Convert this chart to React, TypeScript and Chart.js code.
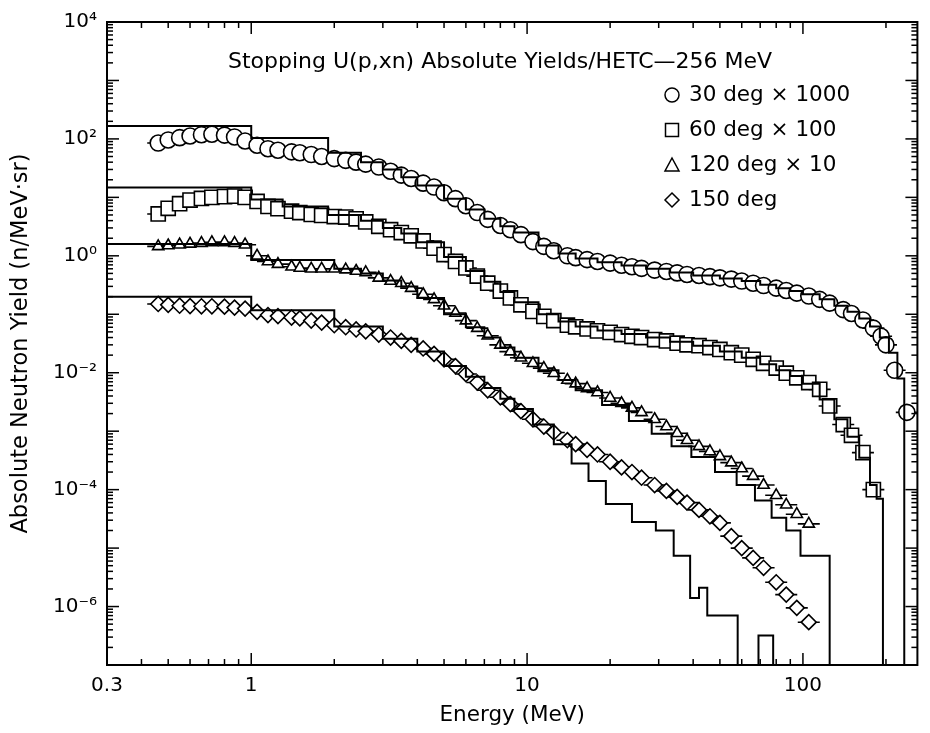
import React, { useEffect, useRef } from 'react';
import { Chart, registerables } from 'chart.js';

Chart.register(...registerables);

const FONT = '"DejaVu Sans", "Liberation Sans", sans-serif';

// ---- measured points (energy in MeV) ----
const markerEnergy = [
  0.46, 0.5, 0.55, 0.6, 0.66, 0.72, 0.8, 0.87, 0.95, 1.05,
  1.15, 1.25, 1.4, 1.5, 1.65, 1.8, 2.0, 2.2, 2.4, 2.6,
  2.9, 3.2, 3.5, 3.8, 4.2, 4.6, 5.0, 5.5, 6.0, 6.6,
  7.2, 8.0, 8.7, 9.5, 10.5, 11.5, 12.5, 14, 15, 16.5,
  18, 20, 22, 24, 26, 29, 32, 35, 38, 42,
  46, 50, 55, 60, 66, 72, 80, 87, 95, 105,
  115, 125, 140, 150, 165, 180, 192, 200, 215, 238,
];

const yield30x1000 = [
  85, 96, 105, 112, 118, 120, 116, 108, 92, 78,
  68, 64, 60, 58, 54, 50, 46, 43, 40, 37,
  33, 28, 24, 21, 17.5, 15, 12, 9.5, 7.2, 5.5,
  4.2, 3.3, 2.8, 2.3, 1.75, 1.45, 1.22, 1.0, 0.93, 0.86,
  0.8, 0.75, 0.69, 0.65, 0.61, 0.57, 0.54, 0.51, 0.48, 0.46,
  0.44, 0.42, 0.4, 0.37, 0.34, 0.31, 0.28, 0.255, 0.23, 0.205,
  0.18, 0.155, 0.12, 0.103, 0.08, 0.058, 0.042, 0.03, 0.011, 0.0021,
];

const yield60x100 = [
  5.2, 6.5, 7.8, 9.0, 9.6, 10, 10.3, 10.5, 10, 8.5,
  7.0, 6.4, 5.8, 5.5, 5.1, 4.9, 4.7, 4.6, 4.3, 3.8,
  3.2, 2.8, 2.5, 2.2, 1.8, 1.35, 1.05, 0.8, 0.62, 0.45,
  0.34, 0.25, 0.19, 0.145, 0.112, 0.092, 0.078, 0.065, 0.061, 0.056,
  0.052, 0.049, 0.045, 0.042, 0.04, 0.037, 0.035, 0.032, 0.03, 0.029,
  0.027, 0.025, 0.022, 0.02, 0.017, 0.0145, 0.012, 0.0098, 0.0082, 0.0068,
  0.0052, 0.0027, 0.0013, 0.00085, 0.00043, 0.0001, null, null, null, null,
];

const yield120x10 = [
  1.45, 1.5, 1.55, 1.6, 1.65, 1.7, 1.7, 1.65, 1.55, 1.0,
  0.8, 0.72, 0.65, 0.62, 0.6, 0.6, 0.6, 0.58, 0.55, 0.52,
  0.42, 0.37, 0.34, 0.28, 0.22, 0.18, 0.14, 0.105, 0.078, 0.058,
  0.043, 0.03, 0.023, 0.018, 0.0145, 0.012, 0.0098, 0.0075, 0.0065, 0.0054,
  0.0046, 0.0037, 0.003, 0.0025, 0.0021, 0.0016, 0.0012, 0.00092, 0.0007, 0.00055,
  0.00045, 0.00037, 0.00029, 0.00023, 0.00017, 0.00012, 0.00008, 0.000055, 0.000038, 0.000026,
  null, null, null, null, null, null, null, null, null, null,
];

const yield150 = [
  0.15, 0.145, 0.14, 0.138, 0.137, 0.137, 0.135, 0.13, 0.125, 0.11,
  0.097, 0.093, 0.088, 0.085, 0.078, 0.072, 0.065, 0.06, 0.055, 0.051,
  0.045, 0.04, 0.035, 0.03, 0.026, 0.021, 0.017, 0.013, 0.0095, 0.0068,
  0.005, 0.0038, 0.0029, 0.0022, 0.0016, 0.0012, 0.00095, 0.0007, 0.0006, 0.00048,
  0.0004, 0.0003, 0.00024, 0.0002, 0.00016, 0.00012, 0.000095, 0.000075, 0.00006, 0.000045,
  0.000035, 0.000027, 0.000016, 0.00001, 0.0000068, 0.0000046, 0.0000026, 0.0000016, 0.00000095, 0.00000054,
  null, null, null, null, null, null, null, null, null, null,
];

// ---- HETC calculation histograms (bin edges in MeV, bin values) ----
const hetc30Edges = [0.3, 1, 1.9, 2.5, 3, 3.5, 4, 5, 6, 7, 8, 9, 11, 13, 15, 18, 22, 27, 33, 40, 50, 60, 70, 80, 90, 100, 115, 130, 145, 160, 175, 190, 205, 220, 233];
const hetc30Values = [166, 104, 58, 40, 30, 22, 16, 9.5, 6.2, 4.3, 3.2, 2.5, 1.5, 1.1, 0.9, 0.78, 0.68, 0.6, 0.52, 0.46, 0.41, 0.37, 0.32, 0.28, 0.25, 0.22, 0.18, 0.14, 0.11, 0.085, 0.062, 0.04, 0.022, 0.008];

const hetc60Edges = [0.3, 1, 1.3, 1.9, 2.5, 3, 3.5, 4, 5, 6, 7, 8, 9, 11, 13, 15, 18, 22, 27, 33, 40, 50, 60, 70, 80, 90, 100, 115, 130, 145, 160, 175, 185, 195];
const hetc60Values = [14.7, 9.2, 7.0, 5.0, 4.0, 3.0, 2.4, 1.7, 0.95, 0.55, 0.36, 0.24, 0.16, 0.1, 0.075, 0.062, 0.053, 0.046, 0.04, 0.034, 0.029, 0.023, 0.018, 0.014, 0.011, 0.0088, 0.0065, 0.0035, 0.0016, 0.0008, 0.00035, 0.00012, 0.00007];

const hetc120Edges = [0.3, 1, 2, 2.5, 3, 3.5, 4, 5, 6, 7, 8, 9, 11, 13, 15, 18.7, 23.4, 28.3, 33.4, 39.4, 48, 57.5, 67, 77, 87, 98, 125];
const hetc120Values = [1.6, 0.85, 0.6, 0.5, 0.38, 0.3, 0.19, 0.1, 0.06, 0.04, 0.027, 0.018, 0.011, 0.0075, 0.005, 0.0028, 0.0015, 0.0009, 0.00055, 0.00036, 0.0002, 0.00012, 0.000065, 0.000033, 0.00002, 0.0000074];

const hetc150Edges = [0.3, 1, 2, 3, 4, 5, 6, 7, 8, 9, 10.5, 12.5, 14.5, 16.7, 19.3, 24, 29.3, 34, 39, 42, 45, 58, 69, 78];
const hetc150Values = [0.2, 0.117, 0.062, 0.038, 0.023, 0.013, 0.0085, 0.0055, 0.0036, 0.0024, 0.0013, 0.0006, 0.00028, 0.00014, 0.000057, 0.000028, 0.00002, 0.0000074, 0.0000014, 0.0000021, 0.0000007, 0, 0.00000032];

// ---- text ----
const seriesLabels = ['30 deg \u00d7 1000', '60 deg \u00d7 100', '120 deg \u00d7 10', '150 deg'];
const seriesStyles = ['circle', 'rect', 'triangle', 'rectRot'];
const chartTitle = 'Stopping U(p,xn) Absolute Yields/HETC\u2014256 MeV';
const xTickValues = [0.3, 1, 10, 100];
const xTickLabels = ['0.3', '1', '10', '100'];
const yTickValues = [1e4, 1e2, 1, 1e-2, 1e-4, 1e-6];
const yTickLabels = ['10\u2074', '10\u00b2', '10\u2070', '10\u207b\u00b2', '10\u207b\u2074', '10\u207b\u2076'];
const xTitle = 'Energy (MeV)';
const yTitle = 'Absolute Neutron Yield (n/MeV\u00b7sr)';

const X_MIN = 0.3;
const X_MAX = 260;
const Y_MIN = 1e-7;
const Y_MAX = 1e4;

function toPoints(values: (number | null)[]) {
  const pts: { x: number; y: number }[] = [];
  values.forEach((v, i) => {
    if (v != null) pts.push({ x: markerEnergy[i], y: v });
  });
  return pts;
}

function toSteps(edges: number[], values: number[]) {
  const FLOOR = 1e-12;
  const pts: { x: number; y: number }[] = [];
  values.forEach((v, i) => {
    const y = v > 0 ? v : FLOOR;
    pts.push({ x: edges[i], y });
    pts.push({ x: edges[i + 1], y });
  });
  pts.push({ x: edges[edges.length - 1], y: FLOOR });
  return pts;
}

function drawSymbol(ctx: CanvasRenderingContext2D, style: string, x: number, y: number) {
  ctx.beginPath();
  if (style === 'circle') {
    ctx.arc(x, y, 7, 0, Math.PI * 2);
  } else if (style === 'rect') {
    ctx.rect(x - 6.5, y - 6.5, 13, 13);
  } else if (style === 'triangle') {
    ctx.moveTo(x, y - 7);
    ctx.lineTo(x + 7, y + 6);
    ctx.lineTo(x - 7, y + 6);
    ctx.closePath();
  } else {
    ctx.moveTo(x, y - 7);
    ctx.lineTo(x + 7, y);
    ctx.lineTo(x, y + 7);
    ctx.lineTo(x - 7, y);
    ctx.closePath();
  }
  ctx.stroke();
}

const frameAndTextPlugin = {
  id: 'frameAndText',
  afterDraw(chart: any) {
    const { ctx, chartArea: a, scales } = chart;
    const xs = scales.x;
    const ys = scales.y;
    ctx.save();
    ctx.strokeStyle = '#000';
    ctx.lineWidth = 2;
    ctx.strokeRect(a.left, a.top, a.right - a.left, a.bottom - a.top);

    ctx.lineWidth = 1.5;
    const line = (x1: number, y1: number, x2: number, y2: number) => {
      ctx.beginPath();
      ctx.moveTo(x1, y1);
      ctx.lineTo(x2, y2);
      ctx.stroke();
    };
    // x ticks (inward, bottom and top)
    for (let d = -1; d <= 2; d++) {
      for (let k = 1; k <= 9; k++) {
        const v = k * Math.pow(10, d);
        if (v < X_MIN - 1e-9 || v > X_MAX) continue;
        const px = xs.getPixelForValue(v);
        const len = k === 1 ? 12 : 6;
        line(px, a.bottom, px, a.bottom - len);
        line(px, a.top, px, a.top + len);
      }
    }
    // y ticks (inward, left and right)
    for (let d = -7; d <= 4; d++) {
      for (let k = 1; k <= 9; k++) {
        const v = k * Math.pow(10, d);
        if (v < Y_MIN || v > Y_MAX) continue;
        const py = ys.getPixelForValue(v);
        const len = k === 1 ? 12 : 6;
        line(a.left, py, a.left + len, py);
        line(a.right, py, a.right - len, py);
      }
    }

    // in-plot title and legend
    ctx.fillStyle = '#000';
    ctx.textBaseline = 'middle';
    ctx.textAlign = 'left';
    ctx.font = `22px ${FONT}`;
    ctx.fillText(chartTitle, a.left + 121, a.top + 40);
    ctx.font = `21.5px ${FONT}`;
    ctx.lineWidth = 1.5;
    seriesLabels.forEach((lab, i) => {
      const yy = a.top + 73 + i * 35;
      drawSymbol(ctx, seriesStyles[i], a.left + 565, yy);
      ctx.fillText(lab, a.left + 582, yy);
    });
    ctx.restore();
  },
};

export default function App() {
  const ref = useRef<HTMLCanvasElement>(null);

  useEffect(() => {
    const canvas = ref.current;
    if (!canvas) return;

    const hists = [
      toSteps(hetc30Edges, hetc30Values),
      toSteps(hetc60Edges, hetc60Values),
      toSteps(hetc120Edges, hetc120Values),
      toSteps(hetc150Edges, hetc150Values),
    ];
    const pts = [
      toPoints(yield30x1000),
      toPoints(yield60x100),
      toPoints(yield120x10),
      toPoints(yield150),
    ];
    const radii = [8, 10, 6.5, 7.5];

    const datasets: any[] = [];
    hists.forEach((h, i) => {
      datasets.push({
        label: 'HETC ' + seriesLabels[i],
        data: h,
        showLine: true,
        borderColor: '#000',
        borderWidth: 2,
        pointRadius: 0,
        fill: false,
        tension: 0,
      });
    });
    pts.forEach((p, i) => {
      datasets.push({
        label: seriesLabels[i],
        data: p,
        showLine: false,
        pointStyle: seriesStyles[i],
        pointRadius: radii[i],
        pointBorderWidth: 1.6,
        borderColor: '#000',
        backgroundColor: '#fff',
        pointBackgroundColor: '#fff',
        pointBorderColor: '#000',
      });
    });
    pts.forEach((p, i) => {
      datasets.push({
        label: 'bins ' + seriesLabels[i],
        data: p,
        showLine: false,
        pointStyle: 'line',
        pointRadius: 11,
        pointBorderWidth: 1.6,
        borderColor: '#000',
        pointBorderColor: '#000',
      });
    });

    const chart = new Chart(canvas, {
      type: 'scatter',
      data: { datasets },
      options: {
        animation: false,
        responsive: false,
        maintainAspectRatio: false,
        events: [],
        layout: { padding: { left: 0, right: 10, top: 20, bottom: 0 } },
        plugins: {
          legend: { display: false },
          tooltip: { enabled: false },
        },
        scales: {
          x: {
            type: 'logarithmic',
            position: 'bottom',
            min: X_MIN,
            max: X_MAX,
            afterBuildTicks: (s: any) => {
              s.ticks = xTickValues.map((v) => ({ value: v }));
            },
            afterFit: (s: any) => {
              s.height = 68;
            },
            grid: { display: false, drawTicks: false },
            border: { display: false },
            ticks: {
              autoSkip: false,
              maxRotation: 0,
              padding: 9,
              color: '#000',
              font: { family: FONT, size: 20 },
              callback: (_v: any, i: number) => xTickLabels[i],
            },
            title: {
              display: true,
              text: xTitle,
              color: '#000',
              font: { family: FONT, size: 21.5 },
              padding: { top: 0, bottom: 5 },
            },
          },
          y: {
            type: 'logarithmic',
            position: 'left',
            min: Y_MIN,
            max: Y_MAX,
            afterBuildTicks: (s: any) => {
              s.ticks = yTickValues.map((v) => ({ value: v }));
            },
            afterFit: (s: any) => {
              s.width = 107;
            },
            grid: { display: false, drawTicks: false },
            border: { display: false },
            ticks: {
              autoSkip: false,
              padding: 10,
              color: '#000',
              font: { family: FONT, size: 20 },
              callback: (_v: any, i: number) => yTickLabels[i],
            },
            title: {
              display: true,
              text: yTitle,
              color: '#000',
              font: { family: FONT, size: 22.5 },
              padding: { top: 8, bottom: 0 },
            },
          },
        },
      },
      plugins: [frameAndTextPlugin],
    });

    return () => chart.destroy();
  }, []);

  return (
    <div style={{ position: 'absolute', left: 0, top: 0, width: 930, height: 733, background: '#fff' }}>
      <canvas ref={ref} width={930} height={733} style={{ display: 'block' }} />
    </div>
  );
}
